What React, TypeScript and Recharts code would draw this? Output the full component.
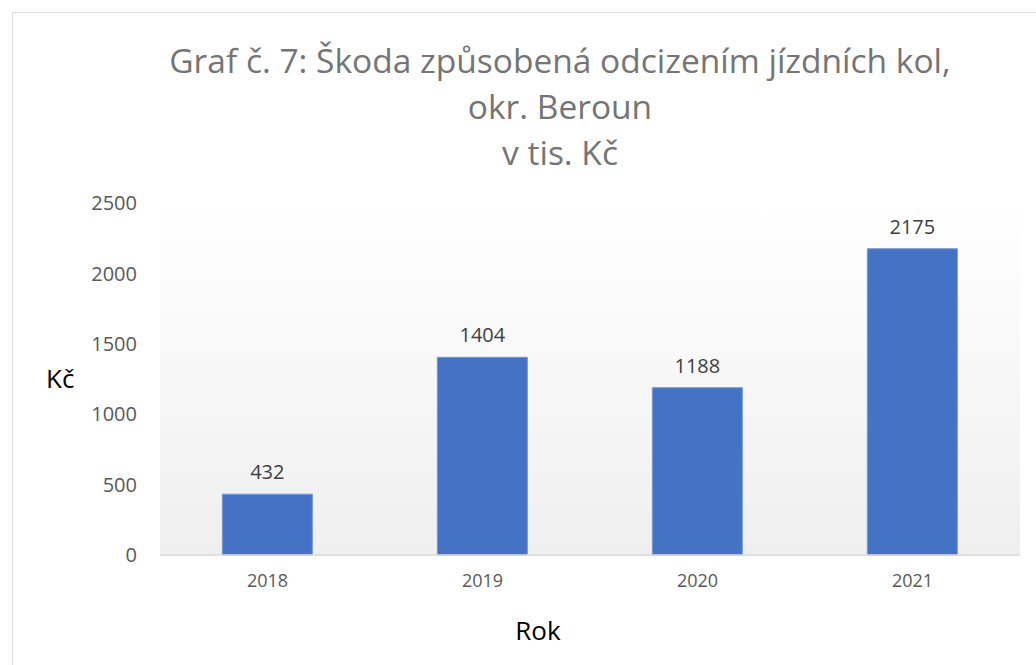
import React from 'react';
import { BarChart, Bar, XAxis, YAxis, CartesianGrid, LabelList, Label } from 'recharts';

const years = ['2018', '2019', '2020', '2021'];
const damage = [432, 1404, 1188, 2175];
const yTicks = [0, 500, 1000, 1500, 2000, 2500];
const titleLines = ['Graf č. 7: Škoda způsobená odcizením jízdních kol,', 'okr. Beroun', 'v tis. Kč'];

const data = years.map((year, i) => ({ year, value: damage[i] }));

const font = '"Open Sans", sans-serif';

export default function App() {
  return (
    <div style={{ position: 'absolute', left: 0, top: 0, width: 1036, height: 665, overflow: 'hidden', background: '#fff' }}>
      {/* chart frame, runs off the right and bottom edge like the screenshot */}
      <div style={{ position: 'absolute', left: 12, top: 12, width: 1096, height: 700, border: '1px solid #d9d9d9' }} />
      <div
        style={{
          position: 'absolute',
          left: 110,
          width: 900,
          top: 37,
          textAlign: 'center',
          fontFamily: font,
          fontSize: 33.5,
          lineHeight: '46px',
          color: '#757575',
        }}
      >
        {titleLines.map((t) => (
          <div key={t}>{t}</div>
        ))}
      </div>
      <div style={{ position: 'absolute', left: 0, top: 0 }}>
        <BarChart width={1036} height={665} data={data} margin={{ top: 203, right: 16, bottom: 0, left: 0 }} barCategoryGap="29%">
          <defs>
            <linearGradient id="plotBg" x1="0" y1="0" x2="0" y2="1">
              <stop offset="0%" stopColor="#ffffff" />
              <stop offset="100%" stopColor="#efefef" />
            </linearGradient>
          </defs>
          <CartesianGrid horizontal={false} vertical={false} fill="url(#plotBg)" />
          <XAxis
            dataKey="year"
            axisLine={{ stroke: '#d9d9d9', strokeWidth: 1.5 }}
            tickLine={false}
            tickSize={0}
            tickMargin={19}
            tick={{ fill: '#595959', fontSize: 18, fontFamily: font }}
            height={110}
          >
            <Label value="Rok" position="insideTop" offset={67} dx={-52} style={{ fill: '#000', fontSize: 26, fontFamily: font }} />
          </XAxis>
          <YAxis
            domain={[0, 2500]}
            ticks={yTicks}
            width={160}
            axisLine={false}
            tickLine={false}
            tickSize={0}
            tickMargin={23}
            tick={{ fill: '#595959', fontSize: 20, fontFamily: font }}
          >
            <Label value="Kč" position="insideLeft" offset={46} angle={0} style={{ fill: '#000', fontSize: 26, fontFamily: font, textAnchor: 'start' }} />
          </YAxis>
          <Bar dataKey="value" fill="#4472c4" stroke="#7396d6" strokeWidth={1} isAnimationActive={false}>
            <LabelList dataKey="value" position="top" offset={15} style={{ fill: '#404040', fontSize: 20, fontFamily: font }} />
          </Bar>
        </BarChart>
      </div>
    </div>
  );
}
